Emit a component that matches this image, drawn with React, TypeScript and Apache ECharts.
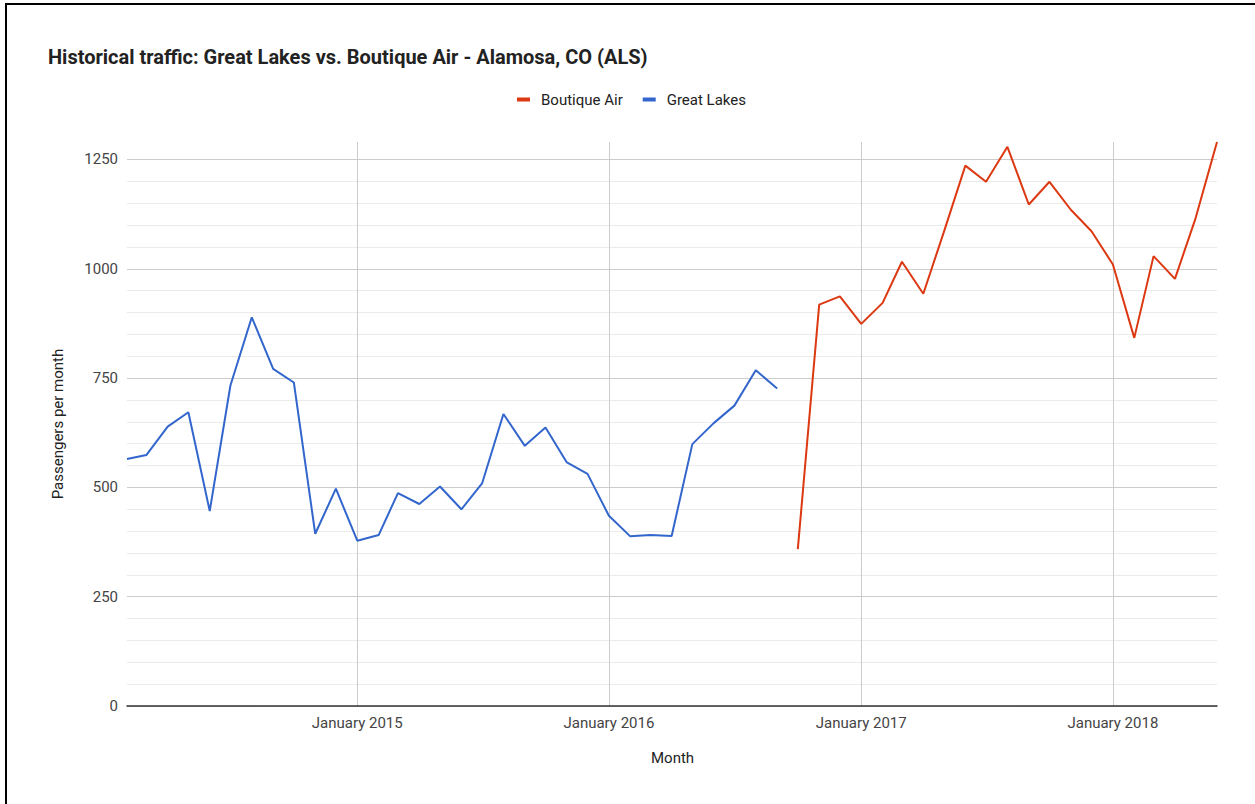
import React, { useEffect, useRef } from "react";
import * as echarts from "echarts";

const TITLE = "Historical traffic: Great Lakes vs. Boutique Air - Alamosa, CO (ALS)";
const X_NAME = "Month";
const Y_NAME = "Passengers per month";

const greatLakesMonths = [
  "2014-02-01", "2014-03-01", "2014-04-01", "2014-05-01", "2014-06-01", "2014-07-01",
  "2014-08-01", "2014-09-01", "2014-10-01", "2014-11-01", "2014-12-01",
  "2015-01-01", "2015-02-01", "2015-03-01", "2015-04-01", "2015-05-01", "2015-06-01",
  "2015-07-01", "2015-08-01", "2015-09-01", "2015-10-01", "2015-11-01", "2015-12-01",
  "2016-01-01", "2016-02-01", "2016-03-01", "2016-04-01", "2016-05-01", "2016-06-01",
  "2016-07-01", "2016-08-01", "2016-09-01",
];
const greatLakesValues = [
  565, 574, 639, 672, 446, 733, 889, 771, 740, 394, 497,
  378, 391, 487, 462, 502, 450, 509, 668, 595, 637, 557, 531,
  435, 388, 391, 389, 599, 647, 687, 768, 726,
];

const boutiqueMonths = [
  "2016-10-01", "2016-11-01", "2016-12-01",
  "2017-01-01", "2017-02-01", "2017-03-01", "2017-04-01", "2017-05-01", "2017-06-01",
  "2017-07-01", "2017-08-01", "2017-09-01", "2017-10-01", "2017-11-01", "2017-12-01",
  "2018-01-01", "2018-02-01", "2018-03-01", "2018-04-01", "2018-05-01", "2018-06-01",
];
const boutiqueValues = [
  359, 918, 937,
  874, 922, 1016, 943, 1085, 1236, 1199, 1279, 1147, 1199, 1135, 1086,
  1010, 842, 1029, 977, 1116, 1290,
];

const yTickLabels = [0, 250, 500, 750, 1000, 1250];
const yMinorStep = 50;
const yMax = 1290;
const xMin = "2014-02-01";
const xMax = "2018-06-01";

const BLUE = "#3366cc";
const RED = "#dc3912";

export default function App() {
  const ref = useRef<HTMLDivElement>(null);

  useEffect(() => {
    if (!ref.current) return;
    const chart = echarts.init(ref.current, null, { renderer: "svg" });

    // split line colours: major every 250, minor every 50, hidden line at the extent max
    const gridColors: string[] = [];
    for (let v = 0; v <= 1250; v += yMinorStep) {
      gridColors.push(yTickLabels.includes(v) ? "#cccccc" : "#ebebeb");
    }
    gridColors.push("rgba(0,0,0,0)");

    chart.setOption({
      animation: false,
      backgroundColor: "#ffffff",
      title: {
        text: TITLE,
        left: 48,
        top: 47,
        padding: 0,
        textStyle: {
          fontFamily: "Roboto",
          fontSize: 20,
          fontWeight: "bold",
          color: "#222222",
        },
      },
      legend: {
        data: ["Boutique Air", "Great Lakes"],
        left: 517,
        top: 92,
        padding: 0,
        icon: "rect",
        itemWidth: 13,
        itemHeight: 4,
        itemGap: 20,
        textStyle: {
          fontFamily: "Roboto",
          fontSize: 15,
          color: "#222222",
          padding: [0, 0, 0, 6],
        },
      },
      grid: {
        left: 127,
        right: 38,
        top: 142,
        bottom: 98,
        containLabel: false,
        outerBoundsMode: "none",
      },
      xAxis: {
        type: "time",
        min: xMin,
        max: xMax,
        minInterval: 365 * 24 * 3600 * 1000,
        maxInterval: 366 * 24 * 3600 * 1000,
        axisLine: { show: true, lineStyle: { color: "#333333", width: 1.5 } },
        axisTick: { show: false },
        axisLabel: {
          margin: 9,
          fontFamily: "Roboto",
          fontSize: 15,
          color: "#444444",
          hideOverlap: false,
          formatter: (value: number) => {
            const d = new Date(value);
            if (d.getMonth() === 0 && d.getDate() === 1) {
              return "January " + d.getFullYear();
            }
            return "";
          },
        },
        splitLine: {
          show: true,
          showMinLine: false,
          showMaxLine: false,
          lineStyle: { color: "#cccccc", width: 1 },
        },
      },
      yAxis: {
        type: "value",
        min: 0,
        max: yMax,
        interval: yMinorStep,
        name: Y_NAME,
        nameLocation: "middle",
        nameRotate: 90,
        nameGap: 62,
        nameTextStyle: { fontFamily: "Roboto", fontSize: 15, color: "#222222" },
        axisLine: { show: false },
        axisTick: { show: false },
        axisLabel: {
          margin: 9,
          fontFamily: "Roboto",
          fontSize: 15,
          color: "#444444",
          formatter: (v: number) => (yTickLabels.includes(v) ? String(v) : ""),
        },
        splitLine: { show: true, lineStyle: { color: gridColors, width: 1 } },
      },
      graphic: [
        {
          type: "text",
          left: 651,
          top: 750,
          style: {
            text: X_NAME,
            fontFamily: "Roboto",
            fontSize: 15,
            fill: "#222222",
          },
        },
      ],
      series: [
        {
          name: "Boutique Air",
          type: "line",
          showSymbol: false,
          color: RED,
          lineStyle: { width: 2, color: RED },
          data: boutiqueMonths.map((m, i) => [m, boutiqueValues[i]]),
        },
        {
          name: "Great Lakes",
          type: "line",
          showSymbol: false,
          color: BLUE,
          lineStyle: { width: 2, color: BLUE },
          data: greatLakesMonths.map((m, i) => [m, greatLakesValues[i]]),
        },
      ],
    });

    return () => chart.dispose();
  }, []);

  return (
    <div
      style={{
        position: "fixed",
        left: 0,
        top: 0,
        width: 1255,
        height: 804,
        background: "#ffffff",
        overflow: "hidden",
      }}
    >
      <div ref={ref} style={{ position: "absolute", left: 0, top: 0, width: 1255, height: 804 }} />
      <div
        style={{
          position: "absolute",
          left: 5,
          top: 3,
          width: 1260,
          height: 810,
          borderLeft: "2px solid #000",
          borderTop: "2px solid #000",
          pointerEvents: "none",
        }}
      />
    </div>
  );
}
